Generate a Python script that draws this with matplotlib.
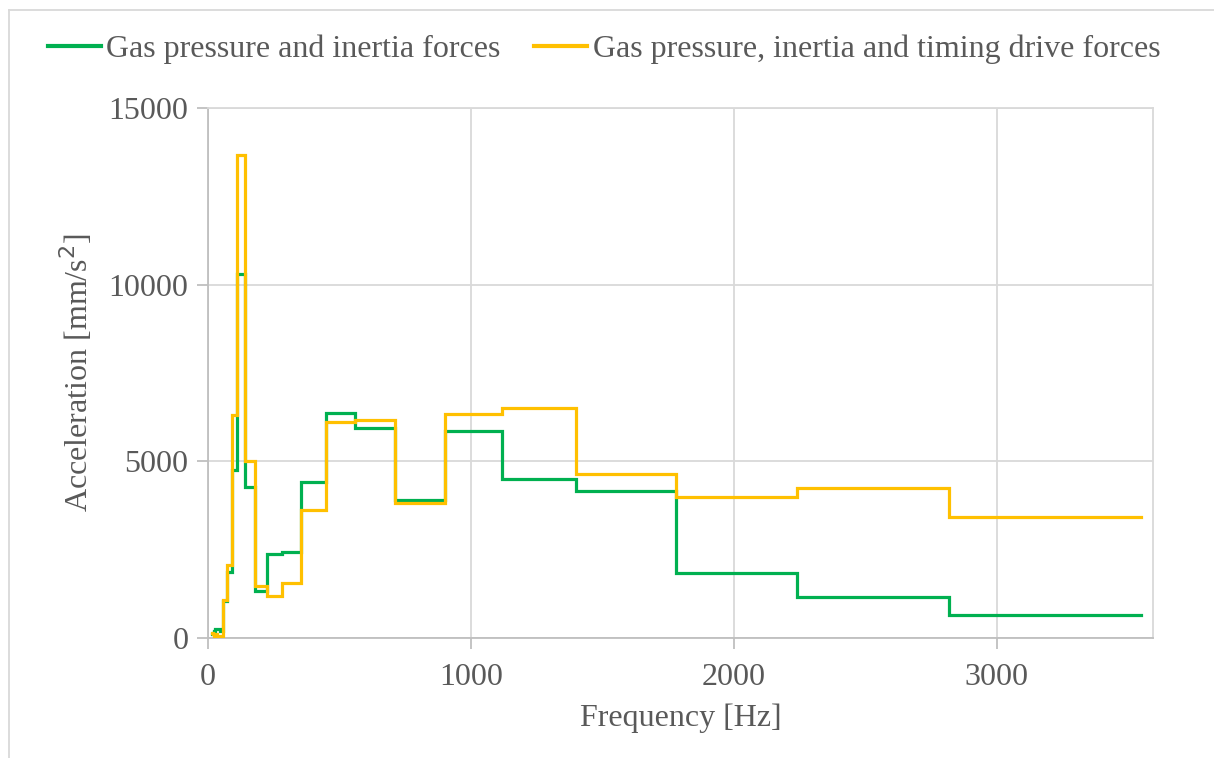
import matplotlib.pyplot as plt
from matplotlib.lines import Line2D

plt.rcParams['font.family'] = ['Liberation Serif', 'DejaVu Serif']

# 1/3 octave band edges [Hz]
band_edges = [14, 18, 22.4, 28, 35.5, 45, 56, 71, 90, 112, 140, 180, 224, 280,
              355, 450, 560, 710, 900, 1120, 1400, 1780, 2240, 2820, 3550]

# band acceleration levels [mm/s^2]
acc_gas_inertia = [120, 150, 200, 250, 250, 200, 1040, 1880, 4750, 10300, 4280, 1330,
                   2380, 2430, 4420, 6370, 5935, 3900, 5860, 4490, 4160, 1830, 1170, 650]
acc_gas_inertia_timing = [150, 100, 50, 100, 50, 30, 1080, 2060, 6320, 13670, 5000, 1480,
                          1200, 1550, 3620, 6120, 6160, 3810, 6330, 6500, 4630, 3980, 4255, 3430]

label_green = 'Gas pressure and inertia forces'
label_yellow = 'Gas pressure, inertia and timing drive forces'

GREEN = '#00B050'
YELLOW = '#FFC000'
GRID = '#D9D9D9'
TEXT = '#595959'
FS = 23

fig = plt.figure(figsize=(12.14, 7.58), dpi=100)
ax = fig.add_axes([208 / 1214, 1 - 638 / 758, (1153 - 208) / 1214, (638 - 108) / 758])

ax.step(band_edges, acc_gas_inertia + [acc_gas_inertia[-1]], where='post',
        color=GREEN, lw=2.3, solid_joinstyle='miter', zorder=3)
ax.step(band_edges, acc_gas_inertia_timing + [acc_gas_inertia_timing[-1]], where='post',
        color=YELLOW, lw=2.3, solid_joinstyle='miter', zorder=4)

ax.set_xlim(0, 3595)
ax.set_ylim(0, 15000)
ax.set_xticks([0, 1000, 2000, 3000])
ax.set_yticks([0, 5000, 10000, 15000])
ax.grid(True, color=GRID, lw=1.3)
ax.set_axisbelow(True)

for side in ['top', 'right']:
    ax.spines[side].set_color(GRID)
    ax.spines[side].set_linewidth(1.3)
for side in ['left', 'bottom']:
    ax.spines[side].set_color('#BFBFBF')
    ax.spines[side].set_linewidth(1.3)

ax.tick_params(axis='both', colors='#BFBFBF', labelcolor=TEXT, labelsize=FS,
               length=8, width=1.3, direction='out')
ax.tick_params(axis='x', pad=10)
ax.tick_params(axis='y', pad=6)

ax.set_xlabel('Frequency [Hz]', fontsize=FS, color=TEXT, labelpad=8)
ax.set_ylabel('Acceleration [mm/s$^2$]', fontsize=FS, color=TEXT, labelpad=10)

handles = [Line2D([], [], color=GREEN, lw=3), Line2D([], [], color=YELLOW, lw=3)]
fig.legend(handles, [label_green, label_yellow], loc='center left',
           bbox_to_anchor=(48 / 1214, 1 - 49 / 758), ncol=2, frameon=False,
           fontsize=FS, labelcolor=TEXT, handlelength=1.65, handletextpad=0.18,
           columnspacing=1.05, borderaxespad=0, borderpad=0)

# chart frame (top and left edges)
fig.add_artist(Line2D([9 / 1214, 9 / 1214], [0, 1 - 10 / 758], color=GRID, lw=1.3))
fig.add_artist(Line2D([9 / 1214, 1], [1 - 10 / 758, 1 - 10 / 758], color=GRID, lw=1.3))

fig.savefig('out.png', dpi=100)
